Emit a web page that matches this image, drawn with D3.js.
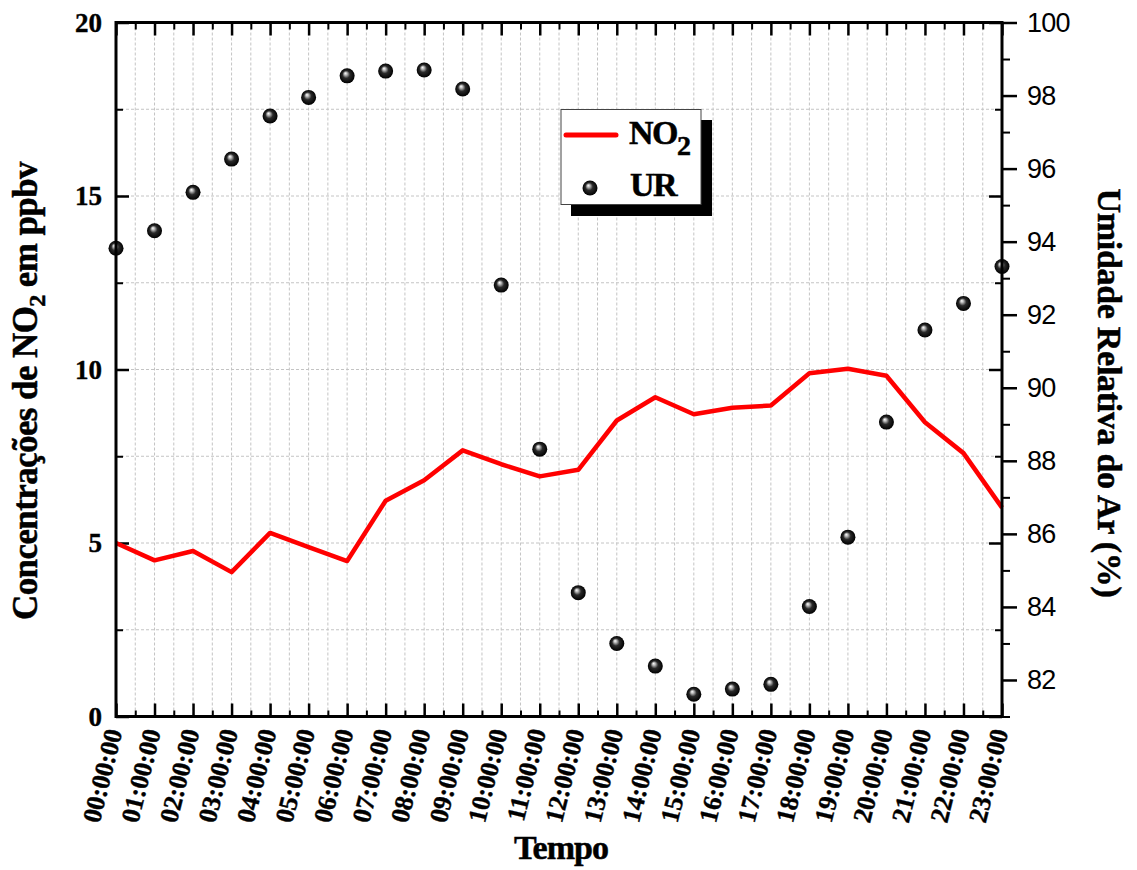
<!DOCTYPE html>
<html>
<head>
<meta charset="utf-8">
<script src="https://cdn.jsdelivr.net/npm/d3@7"></script>
<style>
  html, body { margin: 0; padding: 0; background: #fff; }
  svg { display: block; }
  .serif { font-family: "Liberation Serif", "Times New Roman", serif; font-weight: bold; }
  .sans { font-family: "Liberation Sans", Arial, sans-serif; }
</style>
</head>
<body>
<svg id="chart" width="1137" height="870"></svg>
<script>
// Hourly NO2 concentration (ppbv) and relative humidity (%) over one day
const hourLabels = ["00:00:00","01:00:00","02:00:00","03:00:00","04:00:00","05:00:00",
  "06:00:00","07:00:00","08:00:00","09:00:00","10:00:00","11:00:00","12:00:00",
  "13:00:00","14:00:00","15:00:00","16:00:00","17:00:00","18:00:00","19:00:00",
  "20:00:00","21:00:00","22:00:00","23:00:00"];
const no2 = [5.0, 4.5, 4.77, 4.16, 5.29, 4.88, 4.48, 6.22, 6.81, 7.67, 7.27, 6.92,
  7.11, 8.53, 9.2, 8.71, 8.9, 8.96, 9.89, 10.02, 9.82, 8.48, 7.59, 6.02];
const ur = [93.82, 94.3, 95.35, 96.26, 97.44, 97.95, 98.54, 98.67, 98.7, 98.18, 92.81,
  88.32, 84.39, 83.0, 82.38, 81.61, 81.75, 81.88, 84.01, 85.91, 89.06, 91.58, 92.31, 93.32];
const leftMajorTicks = [0, 5, 10, 15, 20];
const leftMinorTicks = [2.5, 7.5, 12.5, 17.5];
const rightMajorTicks = [82, 84, 86, 88, 90, 92, 94, 96, 98, 100];
const rightMinorTicks = [81, 83, 85, 87, 89, 91, 93, 95, 97, 99];

const svg = d3.select("#chart");
const L = 116, R = 1002, T = 22.5, B = 716.5;

const hours = d3.range(hourLabels.length);
const halfHours = d3.range(0.5, 23, 1);
const x = d3.scaleLinear().domain([0, 23]).range([L, R]);
const yL = d3.scaleLinear().domain([0, 20]).range([B, T]);
const yR = d3.scaleLinear().domain([81, 100]).range([B, T]);

// sphere shading for humidity markers
const defs = svg.append("defs");
const grad = defs.append("radialGradient").attr("id", "ball")
  .attr("cx", "0.5").attr("cy", "0.5").attr("r", "0.5")
  .attr("fx", "0.38").attr("fy", "0.32");
grad.append("stop").attr("offset", "0").attr("stop-color", "#ffffff");
grad.append("stop").attr("offset", "0.2").attr("stop-color", "#b8b8b8");
grad.append("stop").attr("offset", "0.5").attr("stop-color", "#2a2a2a");
grad.append("stop").attr("offset", "1").attr("stop-color", "#000000");

// grid
const grid = svg.append("g").attr("stroke", "#c4c4c4").attr("stroke-width", 1)
  .attr("stroke-dasharray", "3,2");
grid.selectAll("line.v").data(hours.concat(halfHours)).join("line")
  .attr("x1", d => x(d)).attr("x2", d => x(d)).attr("y1", T).attr("y2", B);
grid.selectAll("line.h").data([2.5, 5, 7.5, 10, 12.5, 15, 17.5]).join("line")
  .attr("x1", L).attr("x2", R).attr("y1", d => yL(d)).attr("y2", d => yL(d));

// axis helper: strip domain path, set tick stroke
function styleAxis(g, w) {
  g.select(".domain").remove();
  g.selectAll(".tick line").attr("stroke", "#000").attr("stroke-width", w);
}

// bottom axis
const xb = svg.append("g").attr("transform", `translate(0,${B})`)
  .call(d3.axisBottom(x).tickValues(hours).tickSize(-13).tickFormat(i => hourLabels[i]));
styleAxis(xb, 2.5);
xb.selectAll(".tick text").attr("class", "serif").attr("font-size", 26)
  .attr("fill", "#000").attr("stroke", "#000").attr("stroke-width", 0.4)
  .attr("text-anchor", "end")
  .attr("x", null).attr("y", null).attr("dy", null)
  .attr("transform", "translate(6,15) rotate(-76)");
const xbm = svg.append("g").attr("transform", `translate(0,${B})`)
  .call(d3.axisBottom(x).tickValues(halfHours).tickSize(-6).tickFormat(""));
styleAxis(xbm, 2);

// top axis (mirror)
const xt = svg.append("g").attr("transform", `translate(0,${T})`)
  .call(d3.axisTop(x).tickValues(hours).tickSize(-13).tickFormat(""));
styleAxis(xt, 2.5);
const xtm = svg.append("g").attr("transform", `translate(0,${T})`)
  .call(d3.axisTop(x).tickValues(halfHours).tickSize(-7).tickFormat(""));
styleAxis(xtm, 2);

// left axis
const yl = svg.append("g").attr("transform", `translate(${L},0)`)
  .call(d3.axisLeft(yL).tickValues(leftMajorTicks).tickSize(-13).tickPadding(14));
styleAxis(yl, 2.5);
yl.selectAll(".tick text").attr("class", "serif").attr("font-size", 27).attr("fill", "#000")
  .attr("stroke", "#000").attr("stroke-width", 0.4).attr("dy", "0.33em");
const ylm = svg.append("g").attr("transform", `translate(${L},0)`)
  .call(d3.axisLeft(yL).tickValues(leftMinorTicks).tickSize(-7).tickFormat(""));
styleAxis(ylm, 2);

// right spine: mirrored left ticks pointing in
const ylr = svg.append("g").attr("transform", `translate(${R},0)`)
  .call(d3.axisRight(yL).tickValues(leftMajorTicks).tickSize(-13).tickFormat(""));
styleAxis(ylr, 2.5);
const ylrm = svg.append("g").attr("transform", `translate(${R},0)`)
  .call(d3.axisRight(yL).tickValues(leftMinorTicks).tickSize(-7).tickFormat(""));
styleAxis(ylrm, 2);

// right axis (humidity), ticks pointing out
const yr = svg.append("g").attr("transform", `translate(${R},0)`)
  .call(d3.axisRight(yR).tickValues(rightMajorTicks).tickSize(15).tickPadding(10));
styleAxis(yr, 2.5);
yr.selectAll(".tick text").attr("class", "sans").attr("font-size", 27).attr("fill", "#000")
  .attr("dy", "0.33em").attr("letter-spacing", "-0.8");
const yrm = svg.append("g").attr("transform", `translate(${R},0)`)
  .call(d3.axisRight(yR).tickValues(rightMinorTicks).tickSize(8).tickFormat(""));
styleAxis(yrm, 2);

// NO2 line
svg.append("path").datum(no2)
  .attr("fill", "none").attr("stroke", "#ff0000").attr("stroke-width", 4.5)
  .attr("stroke-linejoin", "round")
  .attr("d", d3.line().x((d, i) => x(i)).y(d => yL(d)));

// humidity markers
svg.append("g").selectAll("circle").data(ur).join("circle")
  .attr("cx", (d, i) => x(i)).attr("cy", d => yR(d)).attr("r", 7.5)
  .attr("fill", "url(#ball)");

// frame
svg.append("rect").attr("x", L).attr("y", T).attr("width", R - L).attr("height", B - T)
  .attr("fill", "none").attr("stroke", "#000").attr("stroke-width", 3);

// axis titles
svg.append("text").attr("class", "serif").attr("font-size", 34).attr("letter-spacing", "-1")
  .attr("stroke", "#000").attr("stroke-width", 0.5)
  .attr("text-anchor", "middle").attr("x", 561).attr("y", 859).text("Tempo");

const lt = svg.append("text").attr("class", "serif").attr("font-size", 35)
  .attr("stroke", "#000").attr("stroke-width", 0.5)
  .attr("letter-spacing", "-0.6").attr("text-anchor", "middle")
  .attr("transform", "translate(37,391) rotate(-90)");
lt.append("tspan").text("Concentrações de NO");
lt.append("tspan").attr("font-size", 24).attr("dy", 8).text("2");
lt.append("tspan").attr("dy", -8).text(" em ppbv");

svg.append("text").attr("class", "serif").attr("font-size", 34).attr("letter-spacing", "-0.3")
  .attr("stroke", "#000").attr("stroke-width", 0.5)
  .attr("text-anchor", "middle").attr("transform", "translate(1098,393) rotate(90)")
  .text("Umidade Relativa do Ar (%)");

// legend
const lg = svg.append("g");
lg.append("rect").attr("x", 571).attr("y", 120).attr("width", 141).attr("height", 96).attr("fill", "#000");
lg.append("rect").attr("x", 561).attr("y", 109.5).attr("width", 140).attr("height", 95)
  .attr("fill", "#fff").attr("stroke", "#444").attr("stroke-width", 1);
lg.append("line").attr("x1", 566).attr("x2", 616).attr("y1", 135).attr("y2", 135)
  .attr("stroke", "#ff0000").attr("stroke-width", 5).attr("stroke-linecap", "round");
lg.append("circle").attr("cx", 590).attr("cy", 188).attr("r", 7.5).attr("fill", "url(#ball)");
const lno = lg.append("text").attr("class", "serif").attr("font-size", 34)
  .attr("stroke", "#000").attr("stroke-width", 0.5)
  .attr("letter-spacing", "-1.5").attr("x", 629).attr("y", 144);
lno.append("tspan").text("NO");
lno.append("tspan").attr("font-size", 28).attr("dy", 11).text("2");
lg.append("text").attr("class", "serif").attr("font-size", 34).attr("letter-spacing", "-1.5")
  .attr("stroke", "#000").attr("stroke-width", 0.5)
  .attr("x", 630).attr("y", 196).text("UR");
</script>
</body>
</html>
